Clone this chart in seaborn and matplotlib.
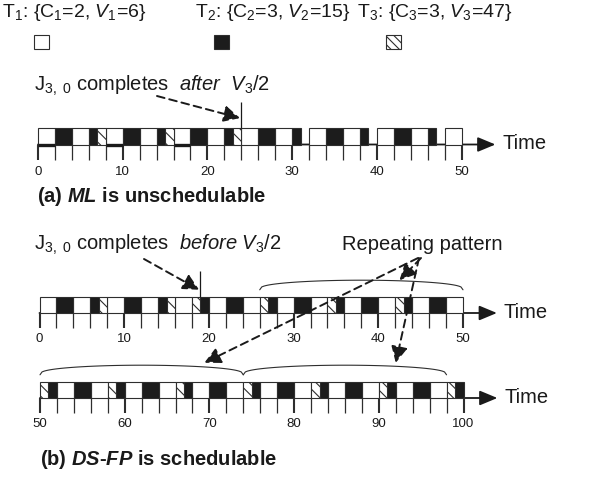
import matplotlib
matplotlib.use("Agg")
import matplotlib.pyplot as plt
from matplotlib.patches import Rectangle
import numpy as np
import seaborn as sns

# ---- schedule data (time units) ----
# task in each slot: 1 = T1 (white), 2 = T2 (black), 3 = T3 (hatched)
ml_start = [0, 2, 4, 6, 7, 8, 10, 12, 14, 15, 16, 18, 20, 22, 23, 24, 26, 28, 30,
            32, 34, 36, 38, 40, 42, 44, 46, 48]
ml_len = [2, 2, 2, 1, 1, 2, 2, 2, 1, 1, 2, 2, 2, 1, 1, 2, 2, 2, 1,
          2, 2, 2, 1, 2, 2, 2, 1, 2]
ml_task = [1, 2, 1, 2, 3, 1, 2, 1, 2, 3, 1, 2, 1, 2, 3, 1, 2, 1, 2,
           1, 2, 1, 2, 1, 2, 1, 2, 1]
ml_late = [0, 8, 16]      # T1 slots drawn with a heavy base line
ml_done = 24              # J3,0 completes (after V3/2)

dsfp_start = [0, 2, 4, 6, 7, 8, 10, 12, 14, 15, 16, 18, 19, 20, 22, 24,
              26, 27, 28, 30, 32, 34, 35, 36, 38, 40, 42, 43, 44, 46, 48,
              50, 51, 52, 54, 56, 58, 59, 60, 62, 64, 66, 67, 68, 70, 72,
              74, 75, 76, 78, 80, 82, 83, 84, 86, 88, 90, 91, 92, 94, 96,
              98, 99]
dsfp_len = [2, 2, 2, 1, 1, 2, 2, 2, 1, 1, 2, 1, 1, 2, 2, 2,
            1, 1, 2, 2, 2, 1, 1, 2, 2, 2, 1, 1, 2, 2, 2,
            1, 1, 2, 2, 2, 1, 1, 2, 2, 2, 1, 1, 2, 2, 2,
            1, 1, 2, 2, 2, 1, 1, 2, 2, 2, 1, 1, 2, 2, 2,
            1, 1]
dsfp_task = [1, 2, 1, 2, 3, 1, 2, 1, 2, 3, 1, 3, 2, 1, 2, 1,
             3, 2, 1, 2, 1, 3, 2, 1, 2, 1, 3, 2, 1, 2, 1,
             3, 2, 1, 2, 1, 3, 2, 1, 2, 1, 3, 2, 1, 2, 1,
             3, 2, 1, 2, 1, 3, 2, 1, 2, 1, 3, 2, 1, 2, 1,
             3, 2]
dsfp_done = 19            # J3,0 completes (before V3/2)
pattern_spans = [(26, 50), (50, 74), (74, 98)]
pattern_targets = [(42.5, 2.05), (69.4, 2.2), (92.0, 2.2)]

tick_step = 2
label_step = 10

# ---- style ----
sns.set_theme(style="white")
plt.rcParams['font.family'] = ['Liberation Sans', 'DejaVu Sans']
plt.rcParams['mathtext.fontset'] = 'custom'
plt.rcParams['mathtext.rm'] = 'Liberation Sans'
plt.rcParams['mathtext.it'] = 'Liberation Sans:italic'
plt.rcParams['mathtext.bf'] = 'Liberation Sans:bold'
plt.rcParams['mathtext.bfit'] = 'Liberation Sans:italic:bold'
plt.rcParams['hatch.linewidth'] = 0.8

INK = '#1a1a1a'
EDGE = '#2e2e2e'
DARK = '#1c1c1c'
HATCH = '\\\\\\'

W, H = 591, 478
PX = 8.47   # pixels per time unit

fig = plt.figure(figsize=(W / 100, H / 100), dpi=100)
fig.patch.set_facecolor('white')

# overlay in pixel coordinates for free text
ov = fig.add_axes([0, 0, 1, 1])
ov.set_xlim(0, W)
ov.set_ylim(H, 0)
ov.axis('off')


def make_row(top, bottom, x0, t0):
    h = bottom - top
    ax = fig.add_axes([0, 1 - (bottom + 3 * h) / H, 1, 7 * h / H])
    ax.set_xlim(t0 - x0 / PX, t0 + (W - x0) / PX)
    ax.set_ylim(-3, 4)
    ax.axis('off')
    return ax


def draw_row(ax, start, length, task, t0, t1):
    s = np.array(start)
    d = np.array(length)
    k = np.array(task)
    m = (s >= t0) & (s < t1)
    ax.annotate('', xy=(t1 + 4.0, 0), xytext=(t0, 0),
                arrowprops=dict(arrowstyle='-|>,head_length=0.6,head_width=0.25',
                                lw=1.3, color=INK, mutation_scale=18,
                                shrinkA=0, shrinkB=0), zorder=1)
    for kk, face, hatch in [(1, 'white', None), (2, DARK, None), (3, 'white', HATCH)]:
        sel = m & (k == kk)
        ax.bar(s[sel], 1, width=d[sel], bottom=0, align='edge', color=face,
               edgecolor=EDGE, linewidth=0.8, hatch=hatch, zorder=2)
    ticks = np.arange(t0, t1 + 1, tick_step)
    ax.vlines(ticks, -0.95, 0, color=EDGE,
              lw=[1.5 if t % label_step == 0 else 0.9 for t in ticks], zorder=1)
    for t in ticks[ticks % label_step == 0]:
        ax.text(t, -1.65, str(t), ha='center', va='center', fontsize=9.5, color=INK)
    ax.text(t1 + 4.8, 0.05, 'Time', fontsize=14.5, va='center', ha='left', color=INK)


def draw_brace(ax, a, b):
    u = np.linspace(0, 1, 100)
    ax.plot(a + (b - a) * u, 1.45 + 0.6 * np.sin(np.pi * u) ** 0.35,
            color=EDGE, lw=0.8)


dash_arrow = dict(arrowstyle='-|>,head_length=0.7,head_width=0.35',
                  linestyle=(0, (4, 2.5)), lw=1.4, color=INK,
                  mutation_scale=14, shrinkA=0, shrinkB=0)

# ---- header: task parameters and legend ----
ov.text(2, 17, r'T$_1$: {C$_1$=2, $V_1$=6}', fontsize=14, color=INK, va='baseline')
ov.text(195, 17, r'T$_2$: {C$_2$=3, $V_2$=15}', fontsize=14, color=INK, va='baseline')
ov.text(357, 17, r'T$_3$: {C$_3$=3, $V_3$=47}', fontsize=14, color=INK, va='baseline')
ov.add_patch(Rectangle((34, 35), 15, 14, fc='white', ec=EDGE, lw=0.8))
ov.add_patch(Rectangle((214, 35), 15, 14, fc=DARK, ec=EDGE, lw=0.8))
ov.add_patch(Rectangle((386, 35), 15, 14, fc='white', ec=EDGE, lw=0.8, hatch='\\\\\\\\'))

# ---- (a) ML ----
ax_a = make_row(128, 144.5, 38, 0)
draw_row(ax_a, ml_start, ml_len, ml_task, 0, 50)
late = np.array(ml_late)
ax_a.hlines(np.zeros(len(late)), late, late + 2, color=INK, lw=2.4, zorder=3)
ax_a.vlines(ml_done, 1, 2.6, color=INK, lw=0.9)
ax_a.annotate('', xy=(ml_done - 0.15, 1.6), xycoords='data',
              xytext=(157, 96), textcoords=ov.transData, arrowprops=dash_arrow)
ov.text(34, 91, r'J$_{3,\ 0}$ completes  $\mathit{after}$  $V_3$/2',
        fontsize=14.5, color=INK, va='baseline')
ov.text(37, 202, r'(a) $\mathbfit{ML}$ is unschedulable', fontsize=14.5,
        fontweight='bold', color=INK, va='baseline')

# ---- (b) DS-FP ----
ax_b1 = make_row(297, 313, 39.5, 0)
draw_row(ax_b1, dsfp_start, dsfp_len, dsfp_task, 0, 50)
ax_b2 = make_row(382, 398, 40, 50)
draw_row(ax_b2, dsfp_start, dsfp_len, dsfp_task, 50, 100)
ax_b1.vlines(dsfp_done, 1, 2.6, color=INK, lw=0.9)
ax_b1.annotate('', xy=(dsfp_done - 0.15, 1.45), xycoords='data',
               xytext=(144, 259), textcoords=ov.transData, arrowprops=dash_arrow)
ov.text(34, 250, r'J$_{3,\ 0}$ completes  $\mathit{before}$ $V_3$/2',
        fontsize=14.5, color=INK, va='baseline')

draw_brace(ax_b1, *pattern_spans[0])
draw_brace(ax_b2, *pattern_spans[1])
draw_brace(ax_b2, *pattern_spans[2])
ov.text(342, 250, 'Repeating pattern', fontsize=14.5, color=INK, va='baseline')
for ax_t, (tx, ty), x_tail in zip([ax_b1, ax_b2, ax_b2], pattern_targets, [421, 418, 419]):
    ax_t.annotate('', xy=(tx, ty), xycoords='data',
                  xytext=(x_tail, 258), textcoords=ov.transData, arrowprops=dash_arrow)

ov.text(40, 465, r'(b) $\mathbfit{DS}$-$\mathbfit{FP}$ is schedulable', fontsize=14.5,
        fontweight='bold', color=INK, va='baseline')

fig.savefig('out.png', dpi=100)
